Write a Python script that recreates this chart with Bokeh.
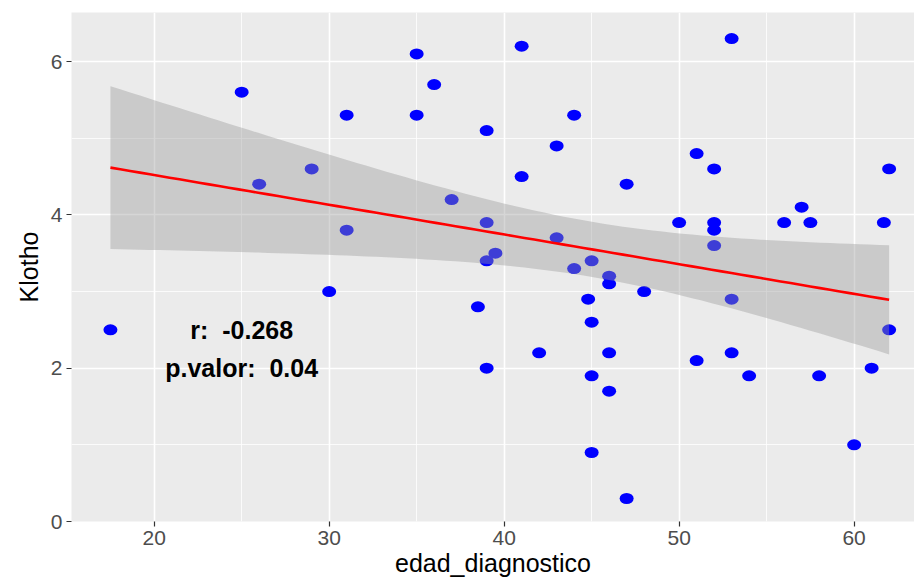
import numpy as np
from bokeh.plotting import figure
from bokeh.models import Range1d, FixedTicker
from bokeh.core.properties import value
from bokeh.embed import file_html
from bokeh.resources import INLINE

# ---- data ----
edad_diagnostico = [17.5, 25, 26, 29, 30, 31, 31, 35, 35, 36, 37, 38.5, 39, 39, 39,
                    39.5, 39, 41, 41, 42, 43, 43, 44, 44, 44.8, 45, 45, 45, 45, 46,
                    46, 46, 46, 47, 47, 48, 50, 51, 51, 52, 52, 52, 52, 53, 53, 53,
                    54, 56, 57, 57.5, 58, 60, 61, 61.7, 62, 62]
klotho = [2.5, 5.6, 4.4, 4.6, 3.0, 5.3, 3.8, 6.1, 5.3, 5.7, 4.2, 2.8, 5.1, 3.9, 3.4,
          3.5, 2.0, 6.2, 4.5, 2.2, 4.9, 3.7, 5.3, 3.3, 2.9, 3.4, 2.6, 1.9, 0.9, 3.2,
          3.1, 2.2, 1.7, 4.4, 0.3, 3.0, 3.9, 4.8, 2.1, 4.6, 3.9, 3.8, 3.6, 6.3, 2.9, 2.2,
          1.9, 3.9, 4.1, 3.9, 1.9, 1.0, 2.0, 3.9, 4.6, 2.5]
x_ticks = [20, 30, 40, 50, 60]
x_minor = [25, 35, 45, 55]
y_ticks = [0, 2, 4, 6]
y_minor = [1, 3, 5]
stat_labels = ["r: \u00a0-0.268", "p.valor: \u00a00.04"]
stat_x = [25, 25]
stat_y = [2.5, 2.0]
x_title = "edad_diagnostico"
y_title = "Klotho"

# ---- linear fit with 95% confidence band (as geom_smooth(method="lm")) ----
x = np.array(edad_diagnostico, dtype=float)
y = np.array(klotho, dtype=float)
n = len(x)
b1, b0 = np.polyfit(x, y, 1)
xs = np.linspace(x.min(), x.max(), 80)
fit = b0 + b1 * xs
resid = y - (b0 + b1 * x)
s = np.sqrt(np.sum(resid ** 2) / (n - 2))
sxx = np.sum((x - x.mean()) ** 2)
se = s * np.sqrt(1.0 / n + (xs - x.mean()) ** 2 / sxx)
tq = 2.004879  # qt(0.975, 54)
lower = fit - tq * se
upper = fit + tq * se

# ggplot-style expanded scale (5% each side); the panel is cropped on the right
x_lo = x.min() - 0.05 * (x.max() - x.min())

FONT = "Liberation Sans"

p = figure(width=914, height=584,
           x_range=Range1d(x_lo, 63.45), y_range=Range1d(0, 6.64),
           output_backend="svg", toolbar_location=None,
           min_border_left=71, min_border_right=0,
           min_border_top=12, min_border_bottom=63)
p.background_fill_color = "#EBEBEB"
p.border_fill_color = "white"
p.outline_line_color = None

p.xaxis.ticker = FixedTicker(ticks=x_ticks, minor_ticks=x_minor)
p.yaxis.ticker = FixedTicker(ticks=y_ticks, minor_ticks=y_minor)

for g in (p.xgrid, p.ygrid):
    g.grid_line_color = "white"
    g.grid_line_width = 1.6
    g.minor_grid_line_color = "white"
    g.minor_grid_line_width = 0.8

for ax in (p.xaxis, p.yaxis):
    ax.axis_line_color = None
    ax.minor_tick_line_color = None
    ax.major_tick_line_color = "#333333"
    ax.major_tick_line_width = 1.2
    ax.major_tick_in = 0
    ax.major_tick_out = 5
    ax.major_label_text_font = FONT
    ax.major_label_text_color = "#4D4D4D"
    ax.major_label_text_font_size = "21px"
    ax.axis_label_text_font = FONT
    ax.axis_label_text_font_style = "normal"
    ax.axis_label_text_color = "black"

p.xaxis.axis_label = x_title
p.xaxis.axis_label_text_font_size = "25px"
p.xaxis.major_label_standoff = 4
p.xaxis.axis_label_standoff = 1
p.yaxis.axis_label = y_title
p.yaxis.axis_label_text_font_size = "25px"
p.yaxis.major_label_standoff = 4
p.yaxis.axis_label_standoff = 5

# points
p.ellipse(x=edad_diagnostico, y=klotho, width=14, height=11,
          width_units="screen", height_units="screen",
          fill_color="#0000FF", line_color=None)

# confidence band and fitted line
p.varea(x=xs, y1=lower, y2=upper, fill_color="#999999", fill_alpha=0.4)
p.line(x=xs, y=fit, line_color="#FF0000", line_width=2.6)

# annotations
p.text(x=stat_x, y=stat_y, text=stat_labels,
       text_font=value(FONT), text_font_size="25px", text_font_style="bold",
       text_color="black", text_align="center", text_baseline="middle")

open("out.html", "w").write(file_html(p, INLINE))
